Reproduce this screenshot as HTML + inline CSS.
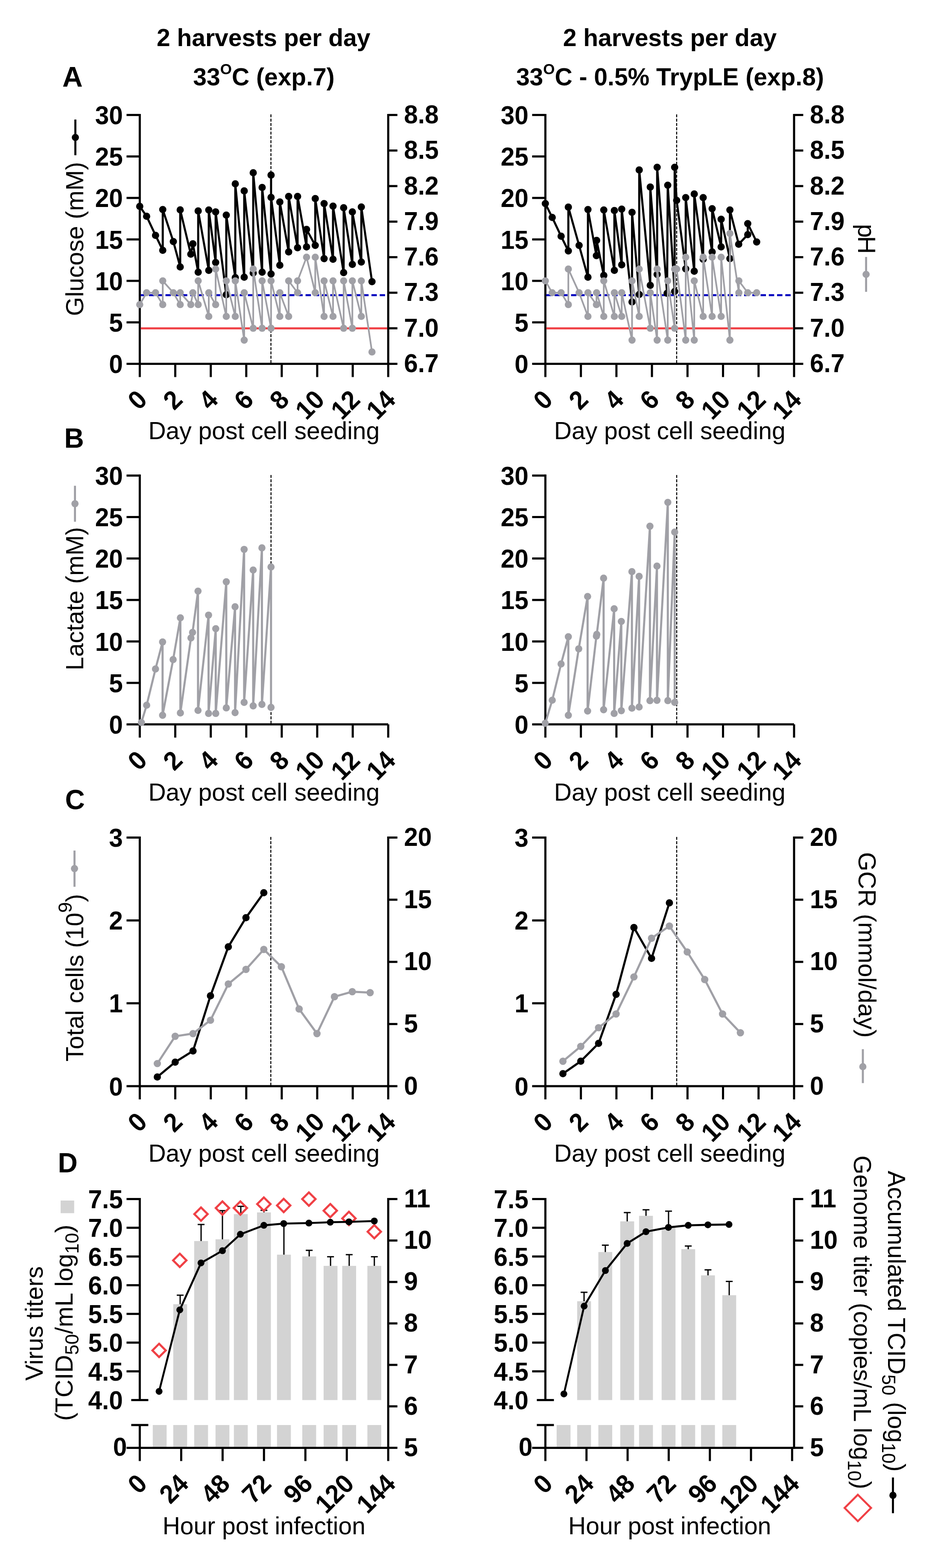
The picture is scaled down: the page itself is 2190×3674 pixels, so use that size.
<!DOCTYPE html>
<html><head><meta charset="utf-8"><title>Figure</title>
<style>html,body{margin:0;padding:0;background:#fff;}svg{display:block;}</style>
</head><body>
<svg width="2190" height="3674" viewBox="0 0 2190 3674" font-family="'Liberation Sans', Arial, sans-serif">
<rect width="2190" height="3674" fill="#fff"/>
<line x1="634.6" y1="268" x2="634.6" y2="850" stroke="#000" stroke-width="2.4" stroke-dasharray="6.8 3.3"/>
<line x1="1584.9" y1="268" x2="1584.9" y2="850" stroke="#000" stroke-width="2.4" stroke-dasharray="6.8 3.3"/>
<line x1="327.4" y1="266.9" x2="327.4" y2="855" stroke="#000" stroke-width="5.0" />
<line x1="296.4" y1="269.4" x2="327.4" y2="269.4" stroke="#000" stroke-width="5.0" />
<text transform="translate(287.9,290.9) scale(1,1.05)" font-size="58.5" font-weight="bold" text-anchor="end">30</text>
<line x1="296.4" y1="366.6" x2="327.4" y2="366.6" stroke="#000" stroke-width="5.0" />
<text transform="translate(287.9,388.1) scale(1,1.05)" font-size="58.5" font-weight="bold" text-anchor="end">25</text>
<line x1="296.4" y1="463.8" x2="327.4" y2="463.8" stroke="#000" stroke-width="5.0" />
<text transform="translate(287.9,485.3) scale(1,1.05)" font-size="58.5" font-weight="bold" text-anchor="end">20</text>
<line x1="296.4" y1="561" x2="327.4" y2="561" stroke="#000" stroke-width="5.0" />
<text transform="translate(287.9,582.5) scale(1,1.05)" font-size="58.5" font-weight="bold" text-anchor="end">15</text>
<line x1="296.4" y1="658.1" x2="327.4" y2="658.1" stroke="#000" stroke-width="5.0" />
<text transform="translate(287.9,679.6) scale(1,1.05)" font-size="58.5" font-weight="bold" text-anchor="end">10</text>
<line x1="296.4" y1="755.3" x2="327.4" y2="755.3" stroke="#000" stroke-width="5.0" />
<text transform="translate(287.9,776.8) scale(1,1.05)" font-size="58.5" font-weight="bold" text-anchor="end">5</text>
<line x1="296.4" y1="852.5" x2="327.4" y2="852.5" stroke="#000" stroke-width="5.0" />
<text transform="translate(287.9,874) scale(1,1.05)" font-size="58.5" font-weight="bold" text-anchor="end">0</text>
<line x1="909.3" y1="266.9" x2="909.3" y2="855" stroke="#000" stroke-width="5.0" />
<line x1="909.3" y1="269.4" x2="930.8" y2="269.4" stroke="#000" stroke-width="5.0" />
<text transform="translate(946.3,288.9) scale(1,1.05)" font-size="58.5" font-weight="bold" text-anchor="start">8.8</text>
<line x1="909.3" y1="352.7" x2="930.8" y2="352.7" stroke="#000" stroke-width="5.0" />
<text transform="translate(946.3,372.2) scale(1,1.05)" font-size="58.5" font-weight="bold" text-anchor="start">8.5</text>
<line x1="909.3" y1="436" x2="930.8" y2="436" stroke="#000" stroke-width="5.0" />
<text transform="translate(946.3,455.5) scale(1,1.05)" font-size="58.5" font-weight="bold" text-anchor="start">8.2</text>
<line x1="909.3" y1="519.3" x2="930.8" y2="519.3" stroke="#000" stroke-width="5.0" />
<text transform="translate(946.3,538.8) scale(1,1.05)" font-size="58.5" font-weight="bold" text-anchor="start">7.9</text>
<line x1="909.3" y1="602.6" x2="930.8" y2="602.6" stroke="#000" stroke-width="5.0" />
<text transform="translate(946.3,622.1) scale(1,1.05)" font-size="58.5" font-weight="bold" text-anchor="start">7.6</text>
<line x1="909.3" y1="685.9" x2="930.8" y2="685.9" stroke="#000" stroke-width="5.0" />
<text transform="translate(946.3,705.4) scale(1,1.05)" font-size="58.5" font-weight="bold" text-anchor="start">7.3</text>
<line x1="909.3" y1="769.2" x2="930.8" y2="769.2" stroke="#000" stroke-width="5.0" />
<text transform="translate(946.3,788.7) scale(1,1.05)" font-size="58.5" font-weight="bold" text-anchor="start">7.0</text>
<line x1="909.3" y1="852.5" x2="930.8" y2="852.5" stroke="#000" stroke-width="5.0" />
<text transform="translate(946.3,872) scale(1,1.05)" font-size="58.5" font-weight="bold" text-anchor="start">6.7</text>
<line x1="327.4" y1="852.5" x2="909.3" y2="852.5" stroke="#000" stroke-width="5.0" />
<line x1="327.4" y1="852.5" x2="327.4" y2="883.5" stroke="#000" stroke-width="5.0" />
<text transform="translate(333.1,925.5) rotate(-45) scale(1,1.05)" font-size="58.5" font-weight="bold" text-anchor="end" dy="20">0</text>
<line x1="410.5" y1="852.5" x2="410.5" y2="883.5" stroke="#000" stroke-width="5.0" />
<text transform="translate(416.2,925.5) rotate(-45) scale(1,1.05)" font-size="58.5" font-weight="bold" text-anchor="end" dy="20">2</text>
<line x1="493.7" y1="852.5" x2="493.7" y2="883.5" stroke="#000" stroke-width="5.0" />
<text transform="translate(499.4,925.5) rotate(-45) scale(1,1.05)" font-size="58.5" font-weight="bold" text-anchor="end" dy="20">4</text>
<line x1="576.8" y1="852.5" x2="576.8" y2="883.5" stroke="#000" stroke-width="5.0" />
<text transform="translate(582.5,925.5) rotate(-45) scale(1,1.05)" font-size="58.5" font-weight="bold" text-anchor="end" dy="20">6</text>
<line x1="659.9" y1="852.5" x2="659.9" y2="883.5" stroke="#000" stroke-width="5.0" />
<text transform="translate(665.6,925.5) rotate(-45) scale(1,1.05)" font-size="58.5" font-weight="bold" text-anchor="end" dy="20">8</text>
<line x1="743" y1="852.5" x2="743" y2="883.5" stroke="#000" stroke-width="5.0" />
<text transform="translate(748.7,925.5) rotate(-45) scale(1,1.05)" font-size="58.5" font-weight="bold" text-anchor="end" dy="20">10</text>
<line x1="826.2" y1="852.5" x2="826.2" y2="883.5" stroke="#000" stroke-width="5.0" />
<text transform="translate(831.9,925.5) rotate(-45) scale(1,1.05)" font-size="58.5" font-weight="bold" text-anchor="end" dy="20">12</text>
<line x1="909.3" y1="852.5" x2="909.3" y2="883.5" stroke="#000" stroke-width="5.0" />
<text transform="translate(915,925.5) rotate(-45) scale(1,1.05)" font-size="58.5" font-weight="bold" text-anchor="end" dy="20">14</text>
<line x1="1277.4" y1="266.9" x2="1277.4" y2="855" stroke="#000" stroke-width="5.0" />
<line x1="1246.4" y1="269.4" x2="1277.4" y2="269.4" stroke="#000" stroke-width="5.0" />
<text transform="translate(1237.9,290.9) scale(1,1.05)" font-size="58.5" font-weight="bold" text-anchor="end">30</text>
<line x1="1246.4" y1="366.6" x2="1277.4" y2="366.6" stroke="#000" stroke-width="5.0" />
<text transform="translate(1237.9,388.1) scale(1,1.05)" font-size="58.5" font-weight="bold" text-anchor="end">25</text>
<line x1="1246.4" y1="463.8" x2="1277.4" y2="463.8" stroke="#000" stroke-width="5.0" />
<text transform="translate(1237.9,485.3) scale(1,1.05)" font-size="58.5" font-weight="bold" text-anchor="end">20</text>
<line x1="1246.4" y1="561" x2="1277.4" y2="561" stroke="#000" stroke-width="5.0" />
<text transform="translate(1237.9,582.5) scale(1,1.05)" font-size="58.5" font-weight="bold" text-anchor="end">15</text>
<line x1="1246.4" y1="658.1" x2="1277.4" y2="658.1" stroke="#000" stroke-width="5.0" />
<text transform="translate(1237.9,679.6) scale(1,1.05)" font-size="58.5" font-weight="bold" text-anchor="end">10</text>
<line x1="1246.4" y1="755.3" x2="1277.4" y2="755.3" stroke="#000" stroke-width="5.0" />
<text transform="translate(1237.9,776.8) scale(1,1.05)" font-size="58.5" font-weight="bold" text-anchor="end">5</text>
<line x1="1246.4" y1="852.5" x2="1277.4" y2="852.5" stroke="#000" stroke-width="5.0" />
<text transform="translate(1237.9,874) scale(1,1.05)" font-size="58.5" font-weight="bold" text-anchor="end">0</text>
<line x1="1859.9" y1="266.9" x2="1859.9" y2="855" stroke="#000" stroke-width="5.0" />
<line x1="1859.9" y1="269.4" x2="1881.4" y2="269.4" stroke="#000" stroke-width="5.0" />
<text transform="translate(1896.9,288.9) scale(1,1.05)" font-size="58.5" font-weight="bold" text-anchor="start">8.8</text>
<line x1="1859.9" y1="352.7" x2="1881.4" y2="352.7" stroke="#000" stroke-width="5.0" />
<text transform="translate(1896.9,372.2) scale(1,1.05)" font-size="58.5" font-weight="bold" text-anchor="start">8.5</text>
<line x1="1859.9" y1="436" x2="1881.4" y2="436" stroke="#000" stroke-width="5.0" />
<text transform="translate(1896.9,455.5) scale(1,1.05)" font-size="58.5" font-weight="bold" text-anchor="start">8.2</text>
<line x1="1859.9" y1="519.3" x2="1881.4" y2="519.3" stroke="#000" stroke-width="5.0" />
<text transform="translate(1896.9,538.8) scale(1,1.05)" font-size="58.5" font-weight="bold" text-anchor="start">7.9</text>
<line x1="1859.9" y1="602.6" x2="1881.4" y2="602.6" stroke="#000" stroke-width="5.0" />
<text transform="translate(1896.9,622.1) scale(1,1.05)" font-size="58.5" font-weight="bold" text-anchor="start">7.6</text>
<line x1="1859.9" y1="685.9" x2="1881.4" y2="685.9" stroke="#000" stroke-width="5.0" />
<text transform="translate(1896.9,705.4) scale(1,1.05)" font-size="58.5" font-weight="bold" text-anchor="start">7.3</text>
<line x1="1859.9" y1="769.2" x2="1881.4" y2="769.2" stroke="#000" stroke-width="5.0" />
<text transform="translate(1896.9,788.7) scale(1,1.05)" font-size="58.5" font-weight="bold" text-anchor="start">7.0</text>
<line x1="1859.9" y1="852.5" x2="1881.4" y2="852.5" stroke="#000" stroke-width="5.0" />
<text transform="translate(1896.9,872) scale(1,1.05)" font-size="58.5" font-weight="bold" text-anchor="start">6.7</text>
<line x1="1277.4" y1="852.5" x2="1859.9" y2="852.5" stroke="#000" stroke-width="5.0" />
<line x1="1277.4" y1="852.5" x2="1277.4" y2="883.5" stroke="#000" stroke-width="5.0" />
<text transform="translate(1283.1,925.5) rotate(-45) scale(1,1.05)" font-size="58.5" font-weight="bold" text-anchor="end" dy="20">0</text>
<line x1="1360.6" y1="852.5" x2="1360.6" y2="883.5" stroke="#000" stroke-width="5.0" />
<text transform="translate(1366.3,925.5) rotate(-45) scale(1,1.05)" font-size="58.5" font-weight="bold" text-anchor="end" dy="20">2</text>
<line x1="1443.8" y1="852.5" x2="1443.8" y2="883.5" stroke="#000" stroke-width="5.0" />
<text transform="translate(1449.5,925.5) rotate(-45) scale(1,1.05)" font-size="58.5" font-weight="bold" text-anchor="end" dy="20">4</text>
<line x1="1527" y1="852.5" x2="1527" y2="883.5" stroke="#000" stroke-width="5.0" />
<text transform="translate(1532.7,925.5) rotate(-45) scale(1,1.05)" font-size="58.5" font-weight="bold" text-anchor="end" dy="20">6</text>
<line x1="1610.3" y1="852.5" x2="1610.3" y2="883.5" stroke="#000" stroke-width="5.0" />
<text transform="translate(1616,925.5) rotate(-45) scale(1,1.05)" font-size="58.5" font-weight="bold" text-anchor="end" dy="20">8</text>
<line x1="1693.5" y1="852.5" x2="1693.5" y2="883.5" stroke="#000" stroke-width="5.0" />
<text transform="translate(1699.2,925.5) rotate(-45) scale(1,1.05)" font-size="58.5" font-weight="bold" text-anchor="end" dy="20">10</text>
<line x1="1776.7" y1="852.5" x2="1776.7" y2="883.5" stroke="#000" stroke-width="5.0" />
<text transform="translate(1782.4,925.5) rotate(-45) scale(1,1.05)" font-size="58.5" font-weight="bold" text-anchor="end" dy="20">12</text>
<line x1="1859.9" y1="852.5" x2="1859.9" y2="883.5" stroke="#000" stroke-width="5.0" />
<text transform="translate(1865.6,925.5) rotate(-45) scale(1,1.05)" font-size="58.5" font-weight="bold" text-anchor="end" dy="20">14</text>
<line x1="634.8" y1="1113" x2="634.8" y2="1695" stroke="#000" stroke-width="2.4" stroke-dasharray="6.8 3.3"/>
<line x1="1585" y1="1113" x2="1585" y2="1695" stroke="#000" stroke-width="2.4" stroke-dasharray="6.8 3.3"/>
<line x1="327.4" y1="1111.8" x2="327.4" y2="1699.8" stroke="#000" stroke-width="5.0" />
<line x1="296.4" y1="1114.3" x2="327.4" y2="1114.3" stroke="#000" stroke-width="5.0" />
<text transform="translate(287.9,1135.8) scale(1,1.05)" font-size="58.5" font-weight="bold" text-anchor="end">30</text>
<line x1="296.4" y1="1211.5" x2="327.4" y2="1211.5" stroke="#000" stroke-width="5.0" />
<text transform="translate(287.9,1233) scale(1,1.05)" font-size="58.5" font-weight="bold" text-anchor="end">25</text>
<line x1="296.4" y1="1308.6" x2="327.4" y2="1308.6" stroke="#000" stroke-width="5.0" />
<text transform="translate(287.9,1330.1) scale(1,1.05)" font-size="58.5" font-weight="bold" text-anchor="end">20</text>
<line x1="296.4" y1="1405.8" x2="327.4" y2="1405.8" stroke="#000" stroke-width="5.0" />
<text transform="translate(287.9,1427.3) scale(1,1.05)" font-size="58.5" font-weight="bold" text-anchor="end">15</text>
<line x1="296.4" y1="1503" x2="327.4" y2="1503" stroke="#000" stroke-width="5.0" />
<text transform="translate(287.9,1524.5) scale(1,1.05)" font-size="58.5" font-weight="bold" text-anchor="end">10</text>
<line x1="296.4" y1="1600.1" x2="327.4" y2="1600.1" stroke="#000" stroke-width="5.0" />
<text transform="translate(287.9,1621.6) scale(1,1.05)" font-size="58.5" font-weight="bold" text-anchor="end">5</text>
<line x1="296.4" y1="1697.3" x2="327.4" y2="1697.3" stroke="#000" stroke-width="5.0" />
<text transform="translate(287.9,1718.8) scale(1,1.05)" font-size="58.5" font-weight="bold" text-anchor="end">0</text>
<line x1="327.4" y1="1697.3" x2="909.3" y2="1697.3" stroke="#000" stroke-width="5.0" />
<line x1="327.4" y1="1697.3" x2="327.4" y2="1728.3" stroke="#000" stroke-width="5.0" />
<text transform="translate(333.1,1770.3) rotate(-45) scale(1,1.05)" font-size="58.5" font-weight="bold" text-anchor="end" dy="20">0</text>
<line x1="410.5" y1="1697.3" x2="410.5" y2="1728.3" stroke="#000" stroke-width="5.0" />
<text transform="translate(416.2,1770.3) rotate(-45) scale(1,1.05)" font-size="58.5" font-weight="bold" text-anchor="end" dy="20">2</text>
<line x1="493.7" y1="1697.3" x2="493.7" y2="1728.3" stroke="#000" stroke-width="5.0" />
<text transform="translate(499.4,1770.3) rotate(-45) scale(1,1.05)" font-size="58.5" font-weight="bold" text-anchor="end" dy="20">4</text>
<line x1="576.8" y1="1697.3" x2="576.8" y2="1728.3" stroke="#000" stroke-width="5.0" />
<text transform="translate(582.5,1770.3) rotate(-45) scale(1,1.05)" font-size="58.5" font-weight="bold" text-anchor="end" dy="20">6</text>
<line x1="659.9" y1="1697.3" x2="659.9" y2="1728.3" stroke="#000" stroke-width="5.0" />
<text transform="translate(665.6,1770.3) rotate(-45) scale(1,1.05)" font-size="58.5" font-weight="bold" text-anchor="end" dy="20">8</text>
<line x1="743" y1="1697.3" x2="743" y2="1728.3" stroke="#000" stroke-width="5.0" />
<text transform="translate(748.7,1770.3) rotate(-45) scale(1,1.05)" font-size="58.5" font-weight="bold" text-anchor="end" dy="20">10</text>
<line x1="826.2" y1="1697.3" x2="826.2" y2="1728.3" stroke="#000" stroke-width="5.0" />
<text transform="translate(831.9,1770.3) rotate(-45) scale(1,1.05)" font-size="58.5" font-weight="bold" text-anchor="end" dy="20">12</text>
<line x1="909.3" y1="1697.3" x2="909.3" y2="1728.3" stroke="#000" stroke-width="5.0" />
<text transform="translate(915,1770.3) rotate(-45) scale(1,1.05)" font-size="58.5" font-weight="bold" text-anchor="end" dy="20">14</text>
<line x1="1277.4" y1="1111.8" x2="1277.4" y2="1699.8" stroke="#000" stroke-width="5.0" />
<line x1="1246.4" y1="1114.3" x2="1277.4" y2="1114.3" stroke="#000" stroke-width="5.0" />
<text transform="translate(1237.9,1135.8) scale(1,1.05)" font-size="58.5" font-weight="bold" text-anchor="end">30</text>
<line x1="1246.4" y1="1211.5" x2="1277.4" y2="1211.5" stroke="#000" stroke-width="5.0" />
<text transform="translate(1237.9,1233) scale(1,1.05)" font-size="58.5" font-weight="bold" text-anchor="end">25</text>
<line x1="1246.4" y1="1308.6" x2="1277.4" y2="1308.6" stroke="#000" stroke-width="5.0" />
<text transform="translate(1237.9,1330.1) scale(1,1.05)" font-size="58.5" font-weight="bold" text-anchor="end">20</text>
<line x1="1246.4" y1="1405.8" x2="1277.4" y2="1405.8" stroke="#000" stroke-width="5.0" />
<text transform="translate(1237.9,1427.3) scale(1,1.05)" font-size="58.5" font-weight="bold" text-anchor="end">15</text>
<line x1="1246.4" y1="1503" x2="1277.4" y2="1503" stroke="#000" stroke-width="5.0" />
<text transform="translate(1237.9,1524.5) scale(1,1.05)" font-size="58.5" font-weight="bold" text-anchor="end">10</text>
<line x1="1246.4" y1="1600.1" x2="1277.4" y2="1600.1" stroke="#000" stroke-width="5.0" />
<text transform="translate(1237.9,1621.6) scale(1,1.05)" font-size="58.5" font-weight="bold" text-anchor="end">5</text>
<line x1="1246.4" y1="1697.3" x2="1277.4" y2="1697.3" stroke="#000" stroke-width="5.0" />
<text transform="translate(1237.9,1718.8) scale(1,1.05)" font-size="58.5" font-weight="bold" text-anchor="end">0</text>
<line x1="1277.4" y1="1697.3" x2="1859.9" y2="1697.3" stroke="#000" stroke-width="5.0" />
<line x1="1277.4" y1="1697.3" x2="1277.4" y2="1728.3" stroke="#000" stroke-width="5.0" />
<text transform="translate(1283.1,1770.3) rotate(-45) scale(1,1.05)" font-size="58.5" font-weight="bold" text-anchor="end" dy="20">0</text>
<line x1="1360.6" y1="1697.3" x2="1360.6" y2="1728.3" stroke="#000" stroke-width="5.0" />
<text transform="translate(1366.3,1770.3) rotate(-45) scale(1,1.05)" font-size="58.5" font-weight="bold" text-anchor="end" dy="20">2</text>
<line x1="1443.8" y1="1697.3" x2="1443.8" y2="1728.3" stroke="#000" stroke-width="5.0" />
<text transform="translate(1449.5,1770.3) rotate(-45) scale(1,1.05)" font-size="58.5" font-weight="bold" text-anchor="end" dy="20">4</text>
<line x1="1527" y1="1697.3" x2="1527" y2="1728.3" stroke="#000" stroke-width="5.0" />
<text transform="translate(1532.7,1770.3) rotate(-45) scale(1,1.05)" font-size="58.5" font-weight="bold" text-anchor="end" dy="20">6</text>
<line x1="1610.3" y1="1697.3" x2="1610.3" y2="1728.3" stroke="#000" stroke-width="5.0" />
<text transform="translate(1616,1770.3) rotate(-45) scale(1,1.05)" font-size="58.5" font-weight="bold" text-anchor="end" dy="20">8</text>
<line x1="1693.5" y1="1697.3" x2="1693.5" y2="1728.3" stroke="#000" stroke-width="5.0" />
<text transform="translate(1699.2,1770.3) rotate(-45) scale(1,1.05)" font-size="58.5" font-weight="bold" text-anchor="end" dy="20">10</text>
<line x1="1776.7" y1="1697.3" x2="1776.7" y2="1728.3" stroke="#000" stroke-width="5.0" />
<text transform="translate(1782.4,1770.3) rotate(-45) scale(1,1.05)" font-size="58.5" font-weight="bold" text-anchor="end" dy="20">12</text>
<line x1="1859.9" y1="1697.3" x2="1859.9" y2="1728.3" stroke="#000" stroke-width="5.0" />
<text transform="translate(1865.6,1770.3) rotate(-45) scale(1,1.05)" font-size="58.5" font-weight="bold" text-anchor="end" dy="20">14</text>
<line x1="634.3" y1="1961" x2="634.3" y2="2543" stroke="#000" stroke-width="2.4" stroke-dasharray="6.8 3.3"/>
<line x1="1585" y1="1961" x2="1585" y2="2543" stroke="#000" stroke-width="2.4" stroke-dasharray="6.8 3.3"/>
<line x1="327.4" y1="1960" x2="327.4" y2="2547.5" stroke="#000" stroke-width="5.0" />
<line x1="296.4" y1="1962.5" x2="327.4" y2="1962.5" stroke="#000" stroke-width="5.0" />
<text transform="translate(287.9,1984) scale(1,1.05)" font-size="58.5" font-weight="bold" text-anchor="end">3</text>
<line x1="296.4" y1="2156.7" x2="327.4" y2="2156.7" stroke="#000" stroke-width="5.0" />
<text transform="translate(287.9,2178.2) scale(1,1.05)" font-size="58.5" font-weight="bold" text-anchor="end">2</text>
<line x1="296.4" y1="2350.8" x2="327.4" y2="2350.8" stroke="#000" stroke-width="5.0" />
<text transform="translate(287.9,2372.3) scale(1,1.05)" font-size="58.5" font-weight="bold" text-anchor="end">1</text>
<line x1="296.4" y1="2545" x2="327.4" y2="2545" stroke="#000" stroke-width="5.0" />
<text transform="translate(287.9,2566.5) scale(1,1.05)" font-size="58.5" font-weight="bold" text-anchor="end">0</text>
<line x1="909.3" y1="1960" x2="909.3" y2="2547.5" stroke="#000" stroke-width="5.0" />
<line x1="909.3" y1="1962.5" x2="930.8" y2="1962.5" stroke="#000" stroke-width="5.0" />
<text transform="translate(946.3,1982) scale(1,1.05)" font-size="58.5" font-weight="bold" text-anchor="start">20</text>
<line x1="909.3" y1="2108.1" x2="930.8" y2="2108.1" stroke="#000" stroke-width="5.0" />
<text transform="translate(946.3,2127.6) scale(1,1.05)" font-size="58.5" font-weight="bold" text-anchor="start">15</text>
<line x1="909.3" y1="2253.8" x2="930.8" y2="2253.8" stroke="#000" stroke-width="5.0" />
<text transform="translate(946.3,2273.2) scale(1,1.05)" font-size="58.5" font-weight="bold" text-anchor="start">10</text>
<line x1="909.3" y1="2399.4" x2="930.8" y2="2399.4" stroke="#000" stroke-width="5.0" />
<text transform="translate(946.3,2418.9) scale(1,1.05)" font-size="58.5" font-weight="bold" text-anchor="start">5</text>
<line x1="909.3" y1="2545" x2="930.8" y2="2545" stroke="#000" stroke-width="5.0" />
<text transform="translate(946.3,2564.5) scale(1,1.05)" font-size="58.5" font-weight="bold" text-anchor="start">0</text>
<line x1="327.4" y1="2545" x2="909.3" y2="2545" stroke="#000" stroke-width="5.0" />
<line x1="327.4" y1="2545" x2="327.4" y2="2576" stroke="#000" stroke-width="5.0" />
<text transform="translate(333.1,2618) rotate(-45) scale(1,1.05)" font-size="58.5" font-weight="bold" text-anchor="end" dy="20">0</text>
<line x1="410.5" y1="2545" x2="410.5" y2="2576" stroke="#000" stroke-width="5.0" />
<text transform="translate(416.2,2618) rotate(-45) scale(1,1.05)" font-size="58.5" font-weight="bold" text-anchor="end" dy="20">2</text>
<line x1="493.7" y1="2545" x2="493.7" y2="2576" stroke="#000" stroke-width="5.0" />
<text transform="translate(499.4,2618) rotate(-45) scale(1,1.05)" font-size="58.5" font-weight="bold" text-anchor="end" dy="20">4</text>
<line x1="576.8" y1="2545" x2="576.8" y2="2576" stroke="#000" stroke-width="5.0" />
<text transform="translate(582.5,2618) rotate(-45) scale(1,1.05)" font-size="58.5" font-weight="bold" text-anchor="end" dy="20">6</text>
<line x1="659.9" y1="2545" x2="659.9" y2="2576" stroke="#000" stroke-width="5.0" />
<text transform="translate(665.6,2618) rotate(-45) scale(1,1.05)" font-size="58.5" font-weight="bold" text-anchor="end" dy="20">8</text>
<line x1="743" y1="2545" x2="743" y2="2576" stroke="#000" stroke-width="5.0" />
<text transform="translate(748.7,2618) rotate(-45) scale(1,1.05)" font-size="58.5" font-weight="bold" text-anchor="end" dy="20">10</text>
<line x1="826.2" y1="2545" x2="826.2" y2="2576" stroke="#000" stroke-width="5.0" />
<text transform="translate(831.9,2618) rotate(-45) scale(1,1.05)" font-size="58.5" font-weight="bold" text-anchor="end" dy="20">12</text>
<line x1="909.3" y1="2545" x2="909.3" y2="2576" stroke="#000" stroke-width="5.0" />
<text transform="translate(915,2618) rotate(-45) scale(1,1.05)" font-size="58.5" font-weight="bold" text-anchor="end" dy="20">14</text>
<line x1="1277.4" y1="1960" x2="1277.4" y2="2547.5" stroke="#000" stroke-width="5.0" />
<line x1="1246.4" y1="1962.5" x2="1277.4" y2="1962.5" stroke="#000" stroke-width="5.0" />
<text transform="translate(1237.9,1984) scale(1,1.05)" font-size="58.5" font-weight="bold" text-anchor="end">3</text>
<line x1="1246.4" y1="2156.7" x2="1277.4" y2="2156.7" stroke="#000" stroke-width="5.0" />
<text transform="translate(1237.9,2178.2) scale(1,1.05)" font-size="58.5" font-weight="bold" text-anchor="end">2</text>
<line x1="1246.4" y1="2350.8" x2="1277.4" y2="2350.8" stroke="#000" stroke-width="5.0" />
<text transform="translate(1237.9,2372.3) scale(1,1.05)" font-size="58.5" font-weight="bold" text-anchor="end">1</text>
<line x1="1246.4" y1="2545" x2="1277.4" y2="2545" stroke="#000" stroke-width="5.0" />
<text transform="translate(1237.9,2566.5) scale(1,1.05)" font-size="58.5" font-weight="bold" text-anchor="end">0</text>
<line x1="1859.9" y1="1960" x2="1859.9" y2="2547.5" stroke="#000" stroke-width="5.0" />
<line x1="1859.9" y1="1962.5" x2="1881.4" y2="1962.5" stroke="#000" stroke-width="5.0" />
<text transform="translate(1896.9,1982) scale(1,1.05)" font-size="58.5" font-weight="bold" text-anchor="start">20</text>
<line x1="1859.9" y1="2108.1" x2="1881.4" y2="2108.1" stroke="#000" stroke-width="5.0" />
<text transform="translate(1896.9,2127.6) scale(1,1.05)" font-size="58.5" font-weight="bold" text-anchor="start">15</text>
<line x1="1859.9" y1="2253.8" x2="1881.4" y2="2253.8" stroke="#000" stroke-width="5.0" />
<text transform="translate(1896.9,2273.2) scale(1,1.05)" font-size="58.5" font-weight="bold" text-anchor="start">10</text>
<line x1="1859.9" y1="2399.4" x2="1881.4" y2="2399.4" stroke="#000" stroke-width="5.0" />
<text transform="translate(1896.9,2418.9) scale(1,1.05)" font-size="58.5" font-weight="bold" text-anchor="start">5</text>
<line x1="1859.9" y1="2545" x2="1881.4" y2="2545" stroke="#000" stroke-width="5.0" />
<text transform="translate(1896.9,2564.5) scale(1,1.05)" font-size="58.5" font-weight="bold" text-anchor="start">0</text>
<line x1="1277.4" y1="2545" x2="1859.9" y2="2545" stroke="#000" stroke-width="5.0" />
<line x1="1277.4" y1="2545" x2="1277.4" y2="2576" stroke="#000" stroke-width="5.0" />
<text transform="translate(1283.1,2618) rotate(-45) scale(1,1.05)" font-size="58.5" font-weight="bold" text-anchor="end" dy="20">0</text>
<line x1="1360.6" y1="2545" x2="1360.6" y2="2576" stroke="#000" stroke-width="5.0" />
<text transform="translate(1366.3,2618) rotate(-45) scale(1,1.05)" font-size="58.5" font-weight="bold" text-anchor="end" dy="20">2</text>
<line x1="1443.8" y1="2545" x2="1443.8" y2="2576" stroke="#000" stroke-width="5.0" />
<text transform="translate(1449.5,2618) rotate(-45) scale(1,1.05)" font-size="58.5" font-weight="bold" text-anchor="end" dy="20">4</text>
<line x1="1527" y1="2545" x2="1527" y2="2576" stroke="#000" stroke-width="5.0" />
<text transform="translate(1532.7,2618) rotate(-45) scale(1,1.05)" font-size="58.5" font-weight="bold" text-anchor="end" dy="20">6</text>
<line x1="1610.3" y1="2545" x2="1610.3" y2="2576" stroke="#000" stroke-width="5.0" />
<text transform="translate(1616,2618) rotate(-45) scale(1,1.05)" font-size="58.5" font-weight="bold" text-anchor="end" dy="20">8</text>
<line x1="1693.5" y1="2545" x2="1693.5" y2="2576" stroke="#000" stroke-width="5.0" />
<text transform="translate(1699.2,2618) rotate(-45) scale(1,1.05)" font-size="58.5" font-weight="bold" text-anchor="end" dy="20">10</text>
<line x1="1776.7" y1="2545" x2="1776.7" y2="2576" stroke="#000" stroke-width="5.0" />
<text transform="translate(1782.4,2618) rotate(-45) scale(1,1.05)" font-size="58.5" font-weight="bold" text-anchor="end" dy="20">12</text>
<line x1="1859.9" y1="2545" x2="1859.9" y2="2576" stroke="#000" stroke-width="5.0" />
<text transform="translate(1865.6,2618) rotate(-45) scale(1,1.05)" font-size="58.5" font-weight="bold" text-anchor="end" dy="20">14</text>
<line x1="327.4" y1="2807" x2="327.4" y2="3280.5" stroke="#000" stroke-width="5.0" />
<line x1="296.4" y1="2809.5" x2="327.4" y2="2809.5" stroke="#000" stroke-width="5.0" />
<text transform="translate(287.9,2831) scale(1,1.05)" font-size="58.5" font-weight="bold" text-anchor="end">7.5</text>
<line x1="296.4" y1="2876.8" x2="327.4" y2="2876.8" stroke="#000" stroke-width="5.0" />
<text transform="translate(287.9,2898.3) scale(1,1.05)" font-size="58.5" font-weight="bold" text-anchor="end">7.0</text>
<line x1="296.4" y1="2944.1" x2="327.4" y2="2944.1" stroke="#000" stroke-width="5.0" />
<text transform="translate(287.9,2965.6) scale(1,1.05)" font-size="58.5" font-weight="bold" text-anchor="end">6.5</text>
<line x1="296.4" y1="3011.4" x2="327.4" y2="3011.4" stroke="#000" stroke-width="5.0" />
<text transform="translate(287.9,3032.9) scale(1,1.05)" font-size="58.5" font-weight="bold" text-anchor="end">6.0</text>
<line x1="296.4" y1="3078.6" x2="327.4" y2="3078.6" stroke="#000" stroke-width="5.0" />
<text transform="translate(287.9,3100.1) scale(1,1.05)" font-size="58.5" font-weight="bold" text-anchor="end">5.5</text>
<line x1="296.4" y1="3145.9" x2="327.4" y2="3145.9" stroke="#000" stroke-width="5.0" />
<text transform="translate(287.9,3167.4) scale(1,1.05)" font-size="58.5" font-weight="bold" text-anchor="end">5.0</text>
<line x1="296.4" y1="3213.2" x2="327.4" y2="3213.2" stroke="#000" stroke-width="5.0" />
<text transform="translate(287.9,3234.7) scale(1,1.05)" font-size="58.5" font-weight="bold" text-anchor="end">4.5</text>
<line x1="307.4" y1="3280.5" x2="347.4" y2="3280.5" stroke="#000" stroke-width="5.0" />
<text transform="translate(287.9,3302) scale(1,1.05)" font-size="58.5" font-weight="bold" text-anchor="end">4.0</text>
<line x1="307.4" y1="3339" x2="347.4" y2="3339" stroke="#000" stroke-width="5.0" />
<line x1="327.4" y1="3339" x2="327.4" y2="3392.4" stroke="#000" stroke-width="5.0" />
<text transform="translate(297.4,3411.4) scale(1,1.05)" font-size="58.5" font-weight="bold" text-anchor="end">0</text>
<line x1="909.3" y1="2807" x2="909.3" y2="3394.9" stroke="#000" stroke-width="5.0" />
<line x1="909.3" y1="2809.5" x2="930.8" y2="2809.5" stroke="#000" stroke-width="5.0" />
<text transform="translate(946.3,2829) scale(1,1.05)" font-size="58.5" font-weight="bold" text-anchor="start">11</text>
<line x1="909.3" y1="2906.7" x2="930.8" y2="2906.7" stroke="#000" stroke-width="5.0" />
<text transform="translate(946.3,2926.2) scale(1,1.05)" font-size="58.5" font-weight="bold" text-anchor="start">10</text>
<line x1="909.3" y1="3003.8" x2="930.8" y2="3003.8" stroke="#000" stroke-width="5.0" />
<text transform="translate(946.3,3023.3) scale(1,1.05)" font-size="58.5" font-weight="bold" text-anchor="start">9</text>
<line x1="909.3" y1="3100.9" x2="930.8" y2="3100.9" stroke="#000" stroke-width="5.0" />
<text transform="translate(946.3,3120.4) scale(1,1.05)" font-size="58.5" font-weight="bold" text-anchor="start">8</text>
<line x1="909.3" y1="3198.1" x2="930.8" y2="3198.1" stroke="#000" stroke-width="5.0" />
<text transform="translate(946.3,3217.6) scale(1,1.05)" font-size="58.5" font-weight="bold" text-anchor="start">7</text>
<line x1="909.3" y1="3295.2" x2="930.8" y2="3295.2" stroke="#000" stroke-width="5.0" />
<text transform="translate(946.3,3314.8) scale(1,1.05)" font-size="58.5" font-weight="bold" text-anchor="start">6</text>
<line x1="909.3" y1="3392.4" x2="930.8" y2="3392.4" stroke="#000" stroke-width="5.0" />
<text transform="translate(946.3,3411.9) scale(1,1.05)" font-size="58.5" font-weight="bold" text-anchor="start">5</text>
<line x1="296.4" y1="3392.4" x2="909.3" y2="3392.4" stroke="#000" stroke-width="5.0" />
<line x1="327.4" y1="3392.4" x2="327.4" y2="3423.4" stroke="#000" stroke-width="5.0" />
<text transform="translate(333.1,3465.4) rotate(-45) scale(1,1.05)" font-size="58.5" font-weight="bold" text-anchor="end" dy="20">0</text>
<line x1="424.4" y1="3392.4" x2="424.4" y2="3423.4" stroke="#000" stroke-width="5.0" />
<text transform="translate(430.1,3465.4) rotate(-45) scale(1,1.05)" font-size="58.5" font-weight="bold" text-anchor="end" dy="20">24</text>
<line x1="521.4" y1="3392.4" x2="521.4" y2="3423.4" stroke="#000" stroke-width="5.0" />
<text transform="translate(527.1,3465.4) rotate(-45) scale(1,1.05)" font-size="58.5" font-weight="bold" text-anchor="end" dy="20">48</text>
<line x1="618.3" y1="3392.4" x2="618.3" y2="3423.4" stroke="#000" stroke-width="5.0" />
<text transform="translate(624,3465.4) rotate(-45) scale(1,1.05)" font-size="58.5" font-weight="bold" text-anchor="end" dy="20">72</text>
<line x1="715.3" y1="3392.4" x2="715.3" y2="3423.4" stroke="#000" stroke-width="5.0" />
<text transform="translate(721,3465.4) rotate(-45) scale(1,1.05)" font-size="58.5" font-weight="bold" text-anchor="end" dy="20">96</text>
<line x1="812.3" y1="3392.4" x2="812.3" y2="3423.4" stroke="#000" stroke-width="5.0" />
<text transform="translate(818,3465.4) rotate(-45) scale(1,1.05)" font-size="58.5" font-weight="bold" text-anchor="end" dy="20">120</text>
<line x1="909.3" y1="3392.4" x2="909.3" y2="3423.4" stroke="#000" stroke-width="5.0" />
<text transform="translate(915,3465.4) rotate(-45) scale(1,1.05)" font-size="58.5" font-weight="bold" text-anchor="end" dy="20">144</text>
<line x1="1277.4" y1="2807" x2="1277.4" y2="3280.5" stroke="#000" stroke-width="5.0" />
<line x1="1246.4" y1="2809.5" x2="1277.4" y2="2809.5" stroke="#000" stroke-width="5.0" />
<text transform="translate(1237.9,2831) scale(1,1.05)" font-size="58.5" font-weight="bold" text-anchor="end">7.5</text>
<line x1="1246.4" y1="2876.8" x2="1277.4" y2="2876.8" stroke="#000" stroke-width="5.0" />
<text transform="translate(1237.9,2898.3) scale(1,1.05)" font-size="58.5" font-weight="bold" text-anchor="end">7.0</text>
<line x1="1246.4" y1="2944.1" x2="1277.4" y2="2944.1" stroke="#000" stroke-width="5.0" />
<text transform="translate(1237.9,2965.6) scale(1,1.05)" font-size="58.5" font-weight="bold" text-anchor="end">6.5</text>
<line x1="1246.4" y1="3011.4" x2="1277.4" y2="3011.4" stroke="#000" stroke-width="5.0" />
<text transform="translate(1237.9,3032.9) scale(1,1.05)" font-size="58.5" font-weight="bold" text-anchor="end">6.0</text>
<line x1="1246.4" y1="3078.6" x2="1277.4" y2="3078.6" stroke="#000" stroke-width="5.0" />
<text transform="translate(1237.9,3100.1) scale(1,1.05)" font-size="58.5" font-weight="bold" text-anchor="end">5.5</text>
<line x1="1246.4" y1="3145.9" x2="1277.4" y2="3145.9" stroke="#000" stroke-width="5.0" />
<text transform="translate(1237.9,3167.4) scale(1,1.05)" font-size="58.5" font-weight="bold" text-anchor="end">5.0</text>
<line x1="1246.4" y1="3213.2" x2="1277.4" y2="3213.2" stroke="#000" stroke-width="5.0" />
<text transform="translate(1237.9,3234.7) scale(1,1.05)" font-size="58.5" font-weight="bold" text-anchor="end">4.5</text>
<line x1="1257.4" y1="3280.5" x2="1297.4" y2="3280.5" stroke="#000" stroke-width="5.0" />
<text transform="translate(1237.9,3302) scale(1,1.05)" font-size="58.5" font-weight="bold" text-anchor="end">4.0</text>
<line x1="1257.4" y1="3339" x2="1297.4" y2="3339" stroke="#000" stroke-width="5.0" />
<line x1="1277.4" y1="3339" x2="1277.4" y2="3392.4" stroke="#000" stroke-width="5.0" />
<text transform="translate(1247.4,3411.4) scale(1,1.05)" font-size="58.5" font-weight="bold" text-anchor="end">0</text>
<line x1="1859.9" y1="2807" x2="1859.9" y2="3394.9" stroke="#000" stroke-width="5.0" />
<line x1="1859.9" y1="2809.5" x2="1881.4" y2="2809.5" stroke="#000" stroke-width="5.0" />
<text transform="translate(1896.9,2829) scale(1,1.05)" font-size="58.5" font-weight="bold" text-anchor="start">11</text>
<line x1="1859.9" y1="2906.7" x2="1881.4" y2="2906.7" stroke="#000" stroke-width="5.0" />
<text transform="translate(1896.9,2926.2) scale(1,1.05)" font-size="58.5" font-weight="bold" text-anchor="start">10</text>
<line x1="1859.9" y1="3003.8" x2="1881.4" y2="3003.8" stroke="#000" stroke-width="5.0" />
<text transform="translate(1896.9,3023.3) scale(1,1.05)" font-size="58.5" font-weight="bold" text-anchor="start">9</text>
<line x1="1859.9" y1="3100.9" x2="1881.4" y2="3100.9" stroke="#000" stroke-width="5.0" />
<text transform="translate(1896.9,3120.4) scale(1,1.05)" font-size="58.5" font-weight="bold" text-anchor="start">8</text>
<line x1="1859.9" y1="3198.1" x2="1881.4" y2="3198.1" stroke="#000" stroke-width="5.0" />
<text transform="translate(1896.9,3217.6) scale(1,1.05)" font-size="58.5" font-weight="bold" text-anchor="start">7</text>
<line x1="1859.9" y1="3295.2" x2="1881.4" y2="3295.2" stroke="#000" stroke-width="5.0" />
<text transform="translate(1896.9,3314.8) scale(1,1.05)" font-size="58.5" font-weight="bold" text-anchor="start">6</text>
<line x1="1859.9" y1="3392.4" x2="1881.4" y2="3392.4" stroke="#000" stroke-width="5.0" />
<text transform="translate(1896.9,3411.9) scale(1,1.05)" font-size="58.5" font-weight="bold" text-anchor="start">5</text>
<line x1="1246.4" y1="3392.4" x2="1859.9" y2="3392.4" stroke="#000" stroke-width="5.0" />
<line x1="1277.4" y1="3392.4" x2="1277.4" y2="3423.4" stroke="#000" stroke-width="5.0" />
<text transform="translate(1283.1,3465.4) rotate(-45) scale(1,1.05)" font-size="58.5" font-weight="bold" text-anchor="end" dy="20">0</text>
<line x1="1373.7" y1="3392.4" x2="1373.7" y2="3423.4" stroke="#000" stroke-width="5.0" />
<text transform="translate(1379.4,3465.4) rotate(-45) scale(1,1.05)" font-size="58.5" font-weight="bold" text-anchor="end" dy="20">24</text>
<line x1="1470" y1="3392.4" x2="1470" y2="3423.4" stroke="#000" stroke-width="5.0" />
<text transform="translate(1475.7,3465.4) rotate(-45) scale(1,1.05)" font-size="58.5" font-weight="bold" text-anchor="end" dy="20">48</text>
<line x1="1566.3" y1="3392.4" x2="1566.3" y2="3423.4" stroke="#000" stroke-width="5.0" />
<text transform="translate(1572,3465.4) rotate(-45) scale(1,1.05)" font-size="58.5" font-weight="bold" text-anchor="end" dy="20">72</text>
<line x1="1662.7" y1="3392.4" x2="1662.7" y2="3423.4" stroke="#000" stroke-width="5.0" />
<text transform="translate(1668.4,3465.4) rotate(-45) scale(1,1.05)" font-size="58.5" font-weight="bold" text-anchor="end" dy="20">96</text>
<line x1="1759" y1="3392.4" x2="1759" y2="3423.4" stroke="#000" stroke-width="5.0" />
<text transform="translate(1764.7,3465.4) rotate(-45) scale(1,1.05)" font-size="58.5" font-weight="bold" text-anchor="end" dy="20">120</text>
<line x1="1855.3" y1="3392.4" x2="1855.3" y2="3423.4" stroke="#000" stroke-width="5.0" />
<text transform="translate(1861,3465.4) rotate(-45) scale(1,1.05)" font-size="58.5" font-weight="bold" text-anchor="end" dy="20">144</text>
<text x="617.2" y="107.5" font-size="57" font-weight="bold" text-anchor="middle" >2 harvests per day</text>
<text x="1569" y="107.5" font-size="57" font-weight="bold" text-anchor="middle" >2 harvests per day</text>
<text x="618" y="200" font-size="57" font-weight="bold" text-anchor="middle">33<tspan font-size="35" dy="-26">O</tspan><tspan dy="26">C (exp.7)</tspan></text>
<text x="1569.4" y="200" font-size="57" font-weight="bold" text-anchor="middle">33<tspan font-size="35" dy="-26">O</tspan><tspan dy="26">C - 0.5% TrypLE (exp.8)</tspan></text>
<text x="146" y="202.7" font-size="66" font-weight="bold" text-anchor="start" >A</text>
<text x="150.5" y="1048.5" font-size="64" font-weight="bold" text-anchor="start" >B</text>
<text x="152.5" y="1895.8" font-size="64" font-weight="bold" text-anchor="start" >C</text>
<text x="135.5" y="2746.7" font-size="64" font-weight="bold" text-anchor="start" >D</text>
<line x1="329.7" y1="769.4" x2="907" y2="769.4" stroke="#f04045" stroke-width="4.8" />
<line x1="329.7" y1="691.6" x2="903.3" y2="691.6" stroke="#0000bf" stroke-width="4.7" stroke-dasharray="12.5 6.8" stroke-linecap="butt"/>
<line x1="1279.7" y1="769.4" x2="1857.6" y2="769.4" stroke="#f04045" stroke-width="4.8" />
<line x1="1279.7" y1="691.6" x2="1853.9" y2="691.6" stroke="#0000bf" stroke-width="4.7" stroke-dasharray="12.5 6.8" stroke-linecap="butt"/>
<polyline points="327.3,483.5 343.4,506.8 364.3,551.4 381.2,586.4 381.2,491 406,565.9 422.1,625.4 422.1,491.7 446.9,595.6 451.7,571.3 464.2,637.7 464.2,494.3 489,633.4 489,492.1 505.1,615 505.1,496.4 530,690.5 530,504 551.1,650.6 551.1,430.7 572,649.5 572,447.3 593.1,639.8 593.1,404.8 614,637.7 614,439.3 634.9,642 634.9,410.2 634.9,462.4 655.4,621.5 655.4,473.2 676.1,590.2 676.1,460.2 697,580.5 697,460.2 718,578.4 718,537.4 738.4,575.1 738.4,465.2 759.1,606 759.1,477 780,607.5 780,483.1 804.9,638.8 804.9,486.7 825.3,619.4 825.3,496.4 846.3,614 846.3,485 871.3,659.9" fill="none" stroke="#000" stroke-width="4.9" stroke-linejoin="round" stroke-linecap="butt" />
<circle cx="327.3" cy="483.5" r="8.5" fill="#000"/>
<circle cx="343.4" cy="506.8" r="8.5" fill="#000"/>
<circle cx="364.3" cy="551.4" r="8.5" fill="#000"/>
<circle cx="381.2" cy="586.4" r="8.5" fill="#000"/>
<circle cx="381.2" cy="491" r="8.5" fill="#000"/>
<circle cx="406" cy="565.9" r="8.5" fill="#000"/>
<circle cx="422.1" cy="625.4" r="8.5" fill="#000"/>
<circle cx="422.1" cy="491.7" r="8.5" fill="#000"/>
<circle cx="446.9" cy="595.6" r="8.5" fill="#000"/>
<circle cx="451.7" cy="571.3" r="8.5" fill="#000"/>
<circle cx="464.2" cy="637.7" r="8.5" fill="#000"/>
<circle cx="464.2" cy="494.3" r="8.5" fill="#000"/>
<circle cx="489" cy="633.4" r="8.5" fill="#000"/>
<circle cx="489" cy="492.1" r="8.5" fill="#000"/>
<circle cx="505.1" cy="615" r="8.5" fill="#000"/>
<circle cx="505.1" cy="496.4" r="8.5" fill="#000"/>
<circle cx="530" cy="690.5" r="8.5" fill="#000"/>
<circle cx="530" cy="504" r="8.5" fill="#000"/>
<circle cx="551.1" cy="650.6" r="8.5" fill="#000"/>
<circle cx="551.1" cy="430.7" r="8.5" fill="#000"/>
<circle cx="572" cy="649.5" r="8.5" fill="#000"/>
<circle cx="572" cy="447.3" r="8.5" fill="#000"/>
<circle cx="593.1" cy="639.8" r="8.5" fill="#000"/>
<circle cx="593.1" cy="404.8" r="8.5" fill="#000"/>
<circle cx="614" cy="637.7" r="8.5" fill="#000"/>
<circle cx="614" cy="439.3" r="8.5" fill="#000"/>
<circle cx="634.9" cy="642" r="8.5" fill="#000"/>
<circle cx="634.9" cy="410.2" r="8.5" fill="#000"/>
<circle cx="634.9" cy="462.4" r="8.5" fill="#000"/>
<circle cx="655.4" cy="621.5" r="8.5" fill="#000"/>
<circle cx="655.4" cy="473.2" r="8.5" fill="#000"/>
<circle cx="676.1" cy="590.2" r="8.5" fill="#000"/>
<circle cx="676.1" cy="460.2" r="8.5" fill="#000"/>
<circle cx="697" cy="580.5" r="8.5" fill="#000"/>
<circle cx="697" cy="460.2" r="8.5" fill="#000"/>
<circle cx="718" cy="578.4" r="8.5" fill="#000"/>
<circle cx="718" cy="537.4" r="8.5" fill="#000"/>
<circle cx="738.4" cy="575.1" r="8.5" fill="#000"/>
<circle cx="738.4" cy="465.2" r="8.5" fill="#000"/>
<circle cx="759.1" cy="606" r="8.5" fill="#000"/>
<circle cx="759.1" cy="477" r="8.5" fill="#000"/>
<circle cx="780" cy="607.5" r="8.5" fill="#000"/>
<circle cx="780" cy="483.1" r="8.5" fill="#000"/>
<circle cx="804.9" cy="638.8" r="8.5" fill="#000"/>
<circle cx="804.9" cy="486.7" r="8.5" fill="#000"/>
<circle cx="825.3" cy="619.4" r="8.5" fill="#000"/>
<circle cx="825.3" cy="496.4" r="8.5" fill="#000"/>
<circle cx="846.3" cy="614" r="8.5" fill="#000"/>
<circle cx="846.3" cy="485" r="8.5" fill="#000"/>
<circle cx="871.3" cy="659.9" r="8.5" fill="#000"/>
<polyline points="327.3,713.7 343.4,685.9 364.3,685.9 381.2,713.7 381.2,658.1 406,685.9 422.1,713.7 422.1,685.9 446.9,713.7 451.7,685.9 464.2,713.7 464.2,658.1 489,741.4 489,685.9 505.1,713.7 505.1,630.4 530,741.4 530,658.1 551.1,741.4 551.1,658.1 572,797 572,685.9 593.1,769.2 593.1,630.4 614,769.2 614,658.1 634.9,769.2 634.9,658.1 655.4,741.4 655.4,685.9 676.1,741.4 676.1,658.1 697,685.9 697,658.1 718,602.6 738.4,685.9 738.4,602.6 759.1,741.4 759.1,658.1 780,741.4 780,658.1 804.9,769.2 804.9,658.1 825.3,769.2 825.3,658.1 846.3,741.4 846.3,658.1 871.3,824.7" fill="none" stroke="#a0a0a6" stroke-width="4.0" stroke-linejoin="round" stroke-linecap="butt" />
<circle cx="327.3" cy="713.7" r="8.4" fill="#a0a0a6"/>
<circle cx="343.4" cy="685.9" r="8.4" fill="#a0a0a6"/>
<circle cx="364.3" cy="685.9" r="8.4" fill="#a0a0a6"/>
<circle cx="381.2" cy="713.7" r="8.4" fill="#a0a0a6"/>
<circle cx="381.2" cy="658.1" r="8.4" fill="#a0a0a6"/>
<circle cx="406" cy="685.9" r="8.4" fill="#a0a0a6"/>
<circle cx="422.1" cy="713.7" r="8.4" fill="#a0a0a6"/>
<circle cx="422.1" cy="685.9" r="8.4" fill="#a0a0a6"/>
<circle cx="446.9" cy="713.7" r="8.4" fill="#a0a0a6"/>
<circle cx="451.7" cy="685.9" r="8.4" fill="#a0a0a6"/>
<circle cx="464.2" cy="713.7" r="8.4" fill="#a0a0a6"/>
<circle cx="464.2" cy="658.1" r="8.4" fill="#a0a0a6"/>
<circle cx="489" cy="741.4" r="8.4" fill="#a0a0a6"/>
<circle cx="489" cy="685.9" r="8.4" fill="#a0a0a6"/>
<circle cx="505.1" cy="713.7" r="8.4" fill="#a0a0a6"/>
<circle cx="505.1" cy="630.4" r="8.4" fill="#a0a0a6"/>
<circle cx="530" cy="741.4" r="8.4" fill="#a0a0a6"/>
<circle cx="530" cy="658.1" r="8.4" fill="#a0a0a6"/>
<circle cx="551.1" cy="741.4" r="8.4" fill="#a0a0a6"/>
<circle cx="551.1" cy="658.1" r="8.4" fill="#a0a0a6"/>
<circle cx="572" cy="797" r="8.4" fill="#a0a0a6"/>
<circle cx="572" cy="685.9" r="8.4" fill="#a0a0a6"/>
<circle cx="593.1" cy="769.2" r="8.4" fill="#a0a0a6"/>
<circle cx="593.1" cy="630.4" r="8.4" fill="#a0a0a6"/>
<circle cx="614" cy="769.2" r="8.4" fill="#a0a0a6"/>
<circle cx="614" cy="658.1" r="8.4" fill="#a0a0a6"/>
<circle cx="634.9" cy="769.2" r="8.4" fill="#a0a0a6"/>
<circle cx="634.9" cy="658.1" r="8.4" fill="#a0a0a6"/>
<circle cx="655.4" cy="741.4" r="8.4" fill="#a0a0a6"/>
<circle cx="655.4" cy="685.9" r="8.4" fill="#a0a0a6"/>
<circle cx="676.1" cy="741.4" r="8.4" fill="#a0a0a6"/>
<circle cx="676.1" cy="658.1" r="8.4" fill="#a0a0a6"/>
<circle cx="697" cy="685.9" r="8.4" fill="#a0a0a6"/>
<circle cx="697" cy="658.1" r="8.4" fill="#a0a0a6"/>
<circle cx="718" cy="602.6" r="8.4" fill="#a0a0a6"/>
<circle cx="738.4" cy="685.9" r="8.4" fill="#a0a0a6"/>
<circle cx="738.4" cy="602.6" r="8.4" fill="#a0a0a6"/>
<circle cx="759.1" cy="741.4" r="8.4" fill="#a0a0a6"/>
<circle cx="759.1" cy="658.1" r="8.4" fill="#a0a0a6"/>
<circle cx="780" cy="741.4" r="8.4" fill="#a0a0a6"/>
<circle cx="780" cy="658.1" r="8.4" fill="#a0a0a6"/>
<circle cx="804.9" cy="769.2" r="8.4" fill="#a0a0a6"/>
<circle cx="804.9" cy="658.1" r="8.4" fill="#a0a0a6"/>
<circle cx="825.3" cy="769.2" r="8.4" fill="#a0a0a6"/>
<circle cx="825.3" cy="658.1" r="8.4" fill="#a0a0a6"/>
<circle cx="846.3" cy="741.4" r="8.4" fill="#a0a0a6"/>
<circle cx="846.3" cy="658.1" r="8.4" fill="#a0a0a6"/>
<circle cx="871.3" cy="824.7" r="8.4" fill="#a0a0a6"/>
<polyline points="1277.3,477 1293.4,509.4 1314.3,553.6 1331.2,588.1 1331.2,485.2 1356.4,575.1 1377.1,649.5 1377.1,491 1396.9,598.9 1397.4,563.3 1414.2,645.2 1414.2,492.1 1439,633.4 1439,493.2 1456.2,620.4 1456.2,490 1480.4,707.4 1480.4,497.5 1497.2,690.1 1497.2,398.3 1523.1,668.6 1523.1,438.2 1539.2,643.1 1539.2,391.9 1562.5,687.3 1564,433.9 1580.2,683 1580.2,391.9 1584.9,469.5 1606.1,630.1 1606.1,463 1626.1,635.5 1626.1,454.4 1647,607.5 1647,463 1668,590.2 1668,488.9 1689.1,578.4 1689.1,513.7 1709.6,606 1709.6,492.1 1730.2,572.2 1751.4,549.7 1751.4,524 1772.3,567" fill="none" stroke="#000" stroke-width="4.9" stroke-linejoin="round" stroke-linecap="butt" />
<circle cx="1277.3" cy="477" r="8.5" fill="#000"/>
<circle cx="1293.4" cy="509.4" r="8.5" fill="#000"/>
<circle cx="1314.3" cy="553.6" r="8.5" fill="#000"/>
<circle cx="1331.2" cy="588.1" r="8.5" fill="#000"/>
<circle cx="1331.2" cy="485.2" r="8.5" fill="#000"/>
<circle cx="1356.4" cy="575.1" r="8.5" fill="#000"/>
<circle cx="1377.1" cy="649.5" r="8.5" fill="#000"/>
<circle cx="1377.1" cy="491" r="8.5" fill="#000"/>
<circle cx="1396.9" cy="598.9" r="8.5" fill="#000"/>
<circle cx="1397.4" cy="563.3" r="8.5" fill="#000"/>
<circle cx="1414.2" cy="645.2" r="8.5" fill="#000"/>
<circle cx="1414.2" cy="492.1" r="8.5" fill="#000"/>
<circle cx="1439" cy="633.4" r="8.5" fill="#000"/>
<circle cx="1439" cy="493.2" r="8.5" fill="#000"/>
<circle cx="1456.2" cy="620.4" r="8.5" fill="#000"/>
<circle cx="1456.2" cy="490" r="8.5" fill="#000"/>
<circle cx="1480.4" cy="707.4" r="8.5" fill="#000"/>
<circle cx="1480.4" cy="497.5" r="8.5" fill="#000"/>
<circle cx="1497.2" cy="690.1" r="8.5" fill="#000"/>
<circle cx="1497.2" cy="398.3" r="8.5" fill="#000"/>
<circle cx="1523.1" cy="668.6" r="8.5" fill="#000"/>
<circle cx="1523.1" cy="438.2" r="8.5" fill="#000"/>
<circle cx="1539.2" cy="643.1" r="8.5" fill="#000"/>
<circle cx="1539.2" cy="391.9" r="8.5" fill="#000"/>
<circle cx="1562.5" cy="687.3" r="8.5" fill="#000"/>
<circle cx="1564" cy="433.9" r="8.5" fill="#000"/>
<circle cx="1580.2" cy="683" r="8.5" fill="#000"/>
<circle cx="1580.2" cy="391.9" r="8.5" fill="#000"/>
<circle cx="1584.9" cy="469.5" r="8.5" fill="#000"/>
<circle cx="1606.1" cy="630.1" r="8.5" fill="#000"/>
<circle cx="1606.1" cy="463" r="8.5" fill="#000"/>
<circle cx="1626.1" cy="635.5" r="8.5" fill="#000"/>
<circle cx="1626.1" cy="454.4" r="8.5" fill="#000"/>
<circle cx="1647" cy="607.5" r="8.5" fill="#000"/>
<circle cx="1647" cy="463" r="8.5" fill="#000"/>
<circle cx="1668" cy="590.2" r="8.5" fill="#000"/>
<circle cx="1668" cy="488.9" r="8.5" fill="#000"/>
<circle cx="1689.1" cy="578.4" r="8.5" fill="#000"/>
<circle cx="1689.1" cy="513.7" r="8.5" fill="#000"/>
<circle cx="1709.6" cy="606" r="8.5" fill="#000"/>
<circle cx="1709.6" cy="492.1" r="8.5" fill="#000"/>
<circle cx="1730.2" cy="572.2" r="8.5" fill="#000"/>
<circle cx="1751.4" cy="549.7" r="8.5" fill="#000"/>
<circle cx="1751.4" cy="524" r="8.5" fill="#000"/>
<circle cx="1772.3" cy="567" r="8.5" fill="#000"/>
<polyline points="1277.3,658.1 1293.4,685.9 1314.3,685.9 1331.2,713.7 1331.2,630.4 1356.4,685.9 1377.1,741.4 1377.1,685.9 1396.9,713.7 1397.4,685.9 1414.2,741.4 1414.2,658.1 1439,741.4 1439,685.9 1456.2,741.4 1456.2,685.9 1480.4,797 1480.4,658.1 1497.2,741.4 1497.2,630.4 1523.1,769.2 1523.1,685.9 1539.2,797 1539.2,630.4 1564,797 1564,658.1 1580.2,769.2 1580.2,630.4 1584.9,630.4 1606.1,797 1606.1,602.6 1626.1,797 1626.1,658.1 1647,741.4 1647,602.6 1668,741.4 1668,602.6 1689.1,741.4 1689.1,602.6 1709.6,797 1709.6,547.1 1730.6,685.9 1730.6,658.1 1751.4,685.9 1772.3,685.9" fill="none" stroke="#a0a0a6" stroke-width="4.0" stroke-linejoin="round" stroke-linecap="butt" />
<circle cx="1277.3" cy="658.1" r="8.4" fill="#a0a0a6"/>
<circle cx="1293.4" cy="685.9" r="8.4" fill="#a0a0a6"/>
<circle cx="1314.3" cy="685.9" r="8.4" fill="#a0a0a6"/>
<circle cx="1331.2" cy="713.7" r="8.4" fill="#a0a0a6"/>
<circle cx="1331.2" cy="630.4" r="8.4" fill="#a0a0a6"/>
<circle cx="1356.4" cy="685.9" r="8.4" fill="#a0a0a6"/>
<circle cx="1377.1" cy="741.4" r="8.4" fill="#a0a0a6"/>
<circle cx="1377.1" cy="685.9" r="8.4" fill="#a0a0a6"/>
<circle cx="1396.9" cy="713.7" r="8.4" fill="#a0a0a6"/>
<circle cx="1397.4" cy="685.9" r="8.4" fill="#a0a0a6"/>
<circle cx="1414.2" cy="741.4" r="8.4" fill="#a0a0a6"/>
<circle cx="1414.2" cy="658.1" r="8.4" fill="#a0a0a6"/>
<circle cx="1439" cy="741.4" r="8.4" fill="#a0a0a6"/>
<circle cx="1439" cy="685.9" r="8.4" fill="#a0a0a6"/>
<circle cx="1456.2" cy="741.4" r="8.4" fill="#a0a0a6"/>
<circle cx="1456.2" cy="685.9" r="8.4" fill="#a0a0a6"/>
<circle cx="1480.4" cy="797" r="8.4" fill="#a0a0a6"/>
<circle cx="1480.4" cy="658.1" r="8.4" fill="#a0a0a6"/>
<circle cx="1497.2" cy="741.4" r="8.4" fill="#a0a0a6"/>
<circle cx="1497.2" cy="630.4" r="8.4" fill="#a0a0a6"/>
<circle cx="1523.1" cy="769.2" r="8.4" fill="#a0a0a6"/>
<circle cx="1523.1" cy="685.9" r="8.4" fill="#a0a0a6"/>
<circle cx="1539.2" cy="797" r="8.4" fill="#a0a0a6"/>
<circle cx="1539.2" cy="630.4" r="8.4" fill="#a0a0a6"/>
<circle cx="1564" cy="797" r="8.4" fill="#a0a0a6"/>
<circle cx="1564" cy="658.1" r="8.4" fill="#a0a0a6"/>
<circle cx="1580.2" cy="769.2" r="8.4" fill="#a0a0a6"/>
<circle cx="1580.2" cy="630.4" r="8.4" fill="#a0a0a6"/>
<circle cx="1584.9" cy="630.4" r="8.4" fill="#a0a0a6"/>
<circle cx="1606.1" cy="797" r="8.4" fill="#a0a0a6"/>
<circle cx="1606.1" cy="602.6" r="8.4" fill="#a0a0a6"/>
<circle cx="1626.1" cy="797" r="8.4" fill="#a0a0a6"/>
<circle cx="1626.1" cy="658.1" r="8.4" fill="#a0a0a6"/>
<circle cx="1647" cy="741.4" r="8.4" fill="#a0a0a6"/>
<circle cx="1647" cy="602.6" r="8.4" fill="#a0a0a6"/>
<circle cx="1668" cy="741.4" r="8.4" fill="#a0a0a6"/>
<circle cx="1668" cy="602.6" r="8.4" fill="#a0a0a6"/>
<circle cx="1689.1" cy="741.4" r="8.4" fill="#a0a0a6"/>
<circle cx="1689.1" cy="602.6" r="8.4" fill="#a0a0a6"/>
<circle cx="1709.6" cy="797" r="8.4" fill="#a0a0a6"/>
<circle cx="1709.6" cy="547.1" r="8.4" fill="#a0a0a6"/>
<circle cx="1730.6" cy="685.9" r="8.4" fill="#a0a0a6"/>
<circle cx="1730.6" cy="658.1" r="8.4" fill="#a0a0a6"/>
<circle cx="1751.4" cy="685.9" r="8.4" fill="#a0a0a6"/>
<circle cx="1772.3" cy="685.9" r="8.4" fill="#a0a0a6"/>
<text x="618.3" y="1029" font-size="57" font-weight="normal" text-anchor="middle" >Day post cell seeding</text>
<text x="1568.7" y="1029" font-size="57" font-weight="normal" text-anchor="middle" >Day post cell seeding</text>
<polyline points="331.2,1692.9 343.5,1652.4 364.2,1567.5 380.8,1504.2 380.8,1676 405.5,1545.5 422.5,1447.6 422.5,1670.5 447.3,1494.8 451,1481.8 463.8,1385.1 463.8,1664.6 488.5,1441.3 488.5,1671.7 505.3,1473.1 505.3,1671.7 530,1363.2 530,1658.7 550.6,1421.7 550.6,1669.8 571.8,1287.3 571.8,1645.8 593,1335.6 593,1654 613.5,1283.7 613.5,1650.5 634.8,1328.5 634.8,1657.5" fill="none" stroke="#a0a0a6" stroke-width="4.9" stroke-linejoin="round" stroke-linecap="butt" />
<circle cx="331.2" cy="1692.9" r="8.4" fill="#a0a0a6"/>
<circle cx="343.5" cy="1652.4" r="8.4" fill="#a0a0a6"/>
<circle cx="364.2" cy="1567.5" r="8.4" fill="#a0a0a6"/>
<circle cx="380.8" cy="1504.2" r="8.4" fill="#a0a0a6"/>
<circle cx="380.8" cy="1676" r="8.4" fill="#a0a0a6"/>
<circle cx="405.5" cy="1545.5" r="8.4" fill="#a0a0a6"/>
<circle cx="422.5" cy="1447.6" r="8.4" fill="#a0a0a6"/>
<circle cx="422.5" cy="1670.5" r="8.4" fill="#a0a0a6"/>
<circle cx="447.3" cy="1494.8" r="8.4" fill="#a0a0a6"/>
<circle cx="451" cy="1481.8" r="8.4" fill="#a0a0a6"/>
<circle cx="463.8" cy="1385.1" r="8.4" fill="#a0a0a6"/>
<circle cx="463.8" cy="1664.6" r="8.4" fill="#a0a0a6"/>
<circle cx="488.5" cy="1441.3" r="8.4" fill="#a0a0a6"/>
<circle cx="488.5" cy="1671.7" r="8.4" fill="#a0a0a6"/>
<circle cx="505.3" cy="1473.1" r="8.4" fill="#a0a0a6"/>
<circle cx="505.3" cy="1671.7" r="8.4" fill="#a0a0a6"/>
<circle cx="530" cy="1363.2" r="8.4" fill="#a0a0a6"/>
<circle cx="530" cy="1658.7" r="8.4" fill="#a0a0a6"/>
<circle cx="550.6" cy="1421.7" r="8.4" fill="#a0a0a6"/>
<circle cx="550.6" cy="1669.8" r="8.4" fill="#a0a0a6"/>
<circle cx="571.8" cy="1287.3" r="8.4" fill="#a0a0a6"/>
<circle cx="571.8" cy="1645.8" r="8.4" fill="#a0a0a6"/>
<circle cx="593" cy="1335.6" r="8.4" fill="#a0a0a6"/>
<circle cx="593" cy="1654" r="8.4" fill="#a0a0a6"/>
<circle cx="613.5" cy="1283.7" r="8.4" fill="#a0a0a6"/>
<circle cx="613.5" cy="1650.5" r="8.4" fill="#a0a0a6"/>
<circle cx="634.8" cy="1328.5" r="8.4" fill="#a0a0a6"/>
<circle cx="634.8" cy="1657.5" r="8.4" fill="#a0a0a6"/>
<polyline points="1277,1694.8 1293.5,1640.6 1314.2,1555.7 1331.2,1492 1331.2,1676 1355.5,1520.3 1376.3,1397.6 1376.3,1666 1396.9,1490.5 1397.8,1486.5 1413.8,1354.7 1413.8,1663 1438.5,1426.4 1438.5,1671.7 1455.3,1456.1 1455.3,1665.3 1480.1,1339.4 1480.1,1659.4 1497,1350.5 1497,1656.6 1522.3,1233 1522.3,1641.7 1538.8,1326.4 1538.8,1641 1564.2,1177.1 1564.2,1641.7 1580.3,1246.7 1580.3,1645.8" fill="none" stroke="#a0a0a6" stroke-width="4.9" stroke-linejoin="round" stroke-linecap="butt" />
<circle cx="1277" cy="1694.8" r="8.4" fill="#a0a0a6"/>
<circle cx="1293.5" cy="1640.6" r="8.4" fill="#a0a0a6"/>
<circle cx="1314.2" cy="1555.7" r="8.4" fill="#a0a0a6"/>
<circle cx="1331.2" cy="1492" r="8.4" fill="#a0a0a6"/>
<circle cx="1331.2" cy="1676" r="8.4" fill="#a0a0a6"/>
<circle cx="1355.5" cy="1520.3" r="8.4" fill="#a0a0a6"/>
<circle cx="1376.3" cy="1397.6" r="8.4" fill="#a0a0a6"/>
<circle cx="1376.3" cy="1666" r="8.4" fill="#a0a0a6"/>
<circle cx="1396.9" cy="1490.5" r="8.4" fill="#a0a0a6"/>
<circle cx="1397.8" cy="1486.5" r="8.4" fill="#a0a0a6"/>
<circle cx="1413.8" cy="1354.7" r="8.4" fill="#a0a0a6"/>
<circle cx="1413.8" cy="1663" r="8.4" fill="#a0a0a6"/>
<circle cx="1438.5" cy="1426.4" r="8.4" fill="#a0a0a6"/>
<circle cx="1438.5" cy="1671.7" r="8.4" fill="#a0a0a6"/>
<circle cx="1455.3" cy="1456.1" r="8.4" fill="#a0a0a6"/>
<circle cx="1455.3" cy="1665.3" r="8.4" fill="#a0a0a6"/>
<circle cx="1480.1" cy="1339.4" r="8.4" fill="#a0a0a6"/>
<circle cx="1480.1" cy="1659.4" r="8.4" fill="#a0a0a6"/>
<circle cx="1497" cy="1350.5" r="8.4" fill="#a0a0a6"/>
<circle cx="1497" cy="1656.6" r="8.4" fill="#a0a0a6"/>
<circle cx="1522.3" cy="1233" r="8.4" fill="#a0a0a6"/>
<circle cx="1522.3" cy="1641.7" r="8.4" fill="#a0a0a6"/>
<circle cx="1538.8" cy="1326.4" r="8.4" fill="#a0a0a6"/>
<circle cx="1538.8" cy="1641" r="8.4" fill="#a0a0a6"/>
<circle cx="1564.2" cy="1177.1" r="8.4" fill="#a0a0a6"/>
<circle cx="1564.2" cy="1641.7" r="8.4" fill="#a0a0a6"/>
<circle cx="1580.3" cy="1246.7" r="8.4" fill="#a0a0a6"/>
<circle cx="1580.3" cy="1645.8" r="8.4" fill="#a0a0a6"/>
<text x="618.3" y="1875.5" font-size="57" font-weight="normal" text-anchor="middle" >Day post cell seeding</text>
<text x="1568.7" y="1875.5" font-size="57" font-weight="normal" text-anchor="middle" >Day post cell seeding</text>
<polyline points="368.5,2523.4 410.3,2488.7 452.1,2462.4 493,2333.3 534.8,2218.4 576.1,2150.3 617.9,2091.8" fill="none" stroke="#000" stroke-width="5.0" stroke-linejoin="round" stroke-linecap="butt" />
<circle cx="368.5" cy="2523.4" r="8.5" fill="#000"/>
<circle cx="410.3" cy="2488.7" r="8.5" fill="#000"/>
<circle cx="452.1" cy="2462.4" r="8.5" fill="#000"/>
<circle cx="493" cy="2333.3" r="8.5" fill="#000"/>
<circle cx="534.8" cy="2218.4" r="8.5" fill="#000"/>
<circle cx="576.1" cy="2150.3" r="8.5" fill="#000"/>
<circle cx="617.9" cy="2091.8" r="8.5" fill="#000"/>
<polyline points="368.5,2492 410.3,2428.1 452.1,2421.8 493,2390.5 534.8,2305.7 576.1,2271.4 617.9,2224.6 659,2265.2 700.6,2364.2 742.4,2421.8 783.4,2335.4 825.1,2323.7 866.9,2325.8" fill="none" stroke="#a0a0a6" stroke-width="5.0" stroke-linejoin="round" stroke-linecap="butt" />
<circle cx="368.5" cy="2492" r="8.6" fill="#a0a0a6"/>
<circle cx="410.3" cy="2428.1" r="8.6" fill="#a0a0a6"/>
<circle cx="452.1" cy="2421.8" r="8.6" fill="#a0a0a6"/>
<circle cx="493" cy="2390.5" r="8.6" fill="#a0a0a6"/>
<circle cx="534.8" cy="2305.7" r="8.6" fill="#a0a0a6"/>
<circle cx="576.1" cy="2271.4" r="8.6" fill="#a0a0a6"/>
<circle cx="617.9" cy="2224.6" r="8.6" fill="#a0a0a6"/>
<circle cx="659" cy="2265.2" r="8.6" fill="#a0a0a6"/>
<circle cx="700.6" cy="2364.2" r="8.6" fill="#a0a0a6"/>
<circle cx="742.4" cy="2421.8" r="8.6" fill="#a0a0a6"/>
<circle cx="783.4" cy="2335.4" r="8.6" fill="#a0a0a6"/>
<circle cx="825.1" cy="2323.7" r="8.6" fill="#a0a0a6"/>
<circle cx="866.9" cy="2325.8" r="8.6" fill="#a0a0a6"/>
<polyline points="1318.5,2515.8 1360.3,2486.6 1402,2444.8 1443,2329.9 1484.8,2173.2 1526.1,2245.5 1567.9,2115.6" fill="none" stroke="#000" stroke-width="5.0" stroke-linejoin="round" stroke-linecap="butt" />
<circle cx="1318.5" cy="2515.8" r="8.5" fill="#000"/>
<circle cx="1360.3" cy="2486.6" r="8.5" fill="#000"/>
<circle cx="1402" cy="2444.8" r="8.5" fill="#000"/>
<circle cx="1443" cy="2329.9" r="8.5" fill="#000"/>
<circle cx="1484.8" cy="2173.2" r="8.5" fill="#000"/>
<circle cx="1526.1" cy="2245.5" r="8.5" fill="#000"/>
<circle cx="1567.9" cy="2115.6" r="8.5" fill="#000"/>
<polyline points="1318.5,2486.6 1360.3,2451.9 1402,2408 1443,2375.9 1484.8,2289 1526.1,2198.3 1567.9,2169.9 1609.7,2230.5 1650.6,2295.2 1692.4,2375.9 1734.2,2419.8" fill="none" stroke="#a0a0a6" stroke-width="5.0" stroke-linejoin="round" stroke-linecap="butt" />
<circle cx="1318.5" cy="2486.6" r="8.6" fill="#a0a0a6"/>
<circle cx="1360.3" cy="2451.9" r="8.6" fill="#a0a0a6"/>
<circle cx="1402" cy="2408" r="8.6" fill="#a0a0a6"/>
<circle cx="1443" cy="2375.9" r="8.6" fill="#a0a0a6"/>
<circle cx="1484.8" cy="2289" r="8.6" fill="#a0a0a6"/>
<circle cx="1526.1" cy="2198.3" r="8.6" fill="#a0a0a6"/>
<circle cx="1567.9" cy="2169.9" r="8.6" fill="#a0a0a6"/>
<circle cx="1609.7" cy="2230.5" r="8.6" fill="#a0a0a6"/>
<circle cx="1650.6" cy="2295.2" r="8.6" fill="#a0a0a6"/>
<circle cx="1692.4" cy="2375.9" r="8.6" fill="#a0a0a6"/>
<circle cx="1734.2" cy="2419.8" r="8.6" fill="#a0a0a6"/>
<text x="618.3" y="2722.3" font-size="57" font-weight="normal" text-anchor="middle" >Day post cell seeding</text>
<text x="1568.7" y="2722.3" font-size="57" font-weight="normal" text-anchor="middle" >Day post cell seeding</text>
<rect x="357.8" y="3339" width="32.5" height="51.1" fill="#d3d3d3"/>
<rect x="405.8" y="3339" width="32.5" height="51.1" fill="#d3d3d3"/>
<rect x="405.8" y="3055.9" width="32.5" height="224.6" fill="#d3d3d3"/>
<rect x="454.8" y="3339" width="32.5" height="51.1" fill="#d3d3d3"/>
<rect x="454.8" y="2907.9" width="32.5" height="372.6" fill="#d3d3d3"/>
<rect x="504.8" y="3339" width="32.5" height="51.1" fill="#d3d3d3"/>
<rect x="504.8" y="2903.8" width="32.5" height="376.7" fill="#d3d3d3"/>
<rect x="547.8" y="3339" width="32.5" height="51.1" fill="#d3d3d3"/>
<rect x="547.8" y="2844.8" width="32.5" height="435.7" fill="#d3d3d3"/>
<rect x="602" y="3339" width="32.5" height="51.1" fill="#d3d3d3"/>
<rect x="602" y="2840.8" width="32.5" height="439.7" fill="#d3d3d3"/>
<rect x="648.8" y="3339" width="32.5" height="51.1" fill="#d3d3d3"/>
<rect x="648.8" y="2939.8" width="32.5" height="340.7" fill="#d3d3d3"/>
<rect x="708" y="3339" width="32.5" height="51.1" fill="#d3d3d3"/>
<rect x="708" y="2943.9" width="32.5" height="336.6" fill="#d3d3d3"/>
<rect x="758" y="3339" width="32.5" height="51.1" fill="#d3d3d3"/>
<rect x="758" y="2966.1" width="32.5" height="314.4" fill="#d3d3d3"/>
<rect x="801.6" y="3339" width="32.5" height="51.1" fill="#d3d3d3"/>
<rect x="801.6" y="2966.1" width="32.5" height="314.4" fill="#d3d3d3"/>
<rect x="860.5" y="3339" width="32.5" height="51.1" fill="#d3d3d3"/>
<rect x="860.5" y="2966.1" width="32.5" height="314.4" fill="#d3d3d3"/>
<line x1="422" y1="3055.9" x2="422" y2="3034.8" stroke="#000" stroke-width="3.0" />
<line x1="414" y1="3034.8" x2="430" y2="3034.8" stroke="#000" stroke-width="3.0" />
<line x1="471" y1="2907.9" x2="471" y2="2869.1" stroke="#000" stroke-width="3.0" />
<line x1="463" y1="2869.1" x2="479" y2="2869.1" stroke="#000" stroke-width="3.0" />
<line x1="521" y1="2903.8" x2="521" y2="2836.7" stroke="#000" stroke-width="3.0" />
<line x1="513" y1="2836.7" x2="529" y2="2836.7" stroke="#000" stroke-width="3.0" />
<line x1="564" y1="2844.8" x2="564" y2="2826.6" stroke="#000" stroke-width="3.0" />
<line x1="556" y1="2826.6" x2="572" y2="2826.6" stroke="#000" stroke-width="3.0" />
<line x1="618.2" y1="2840.8" x2="618.2" y2="2835.9" stroke="#000" stroke-width="3.0" />
<line x1="610.2" y1="2835.9" x2="626.2" y2="2835.9" stroke="#000" stroke-width="3.0" />
<line x1="665" y1="2939.8" x2="665" y2="2867" stroke="#000" stroke-width="3.0" />
<line x1="657" y1="2867" x2="673" y2="2867" stroke="#000" stroke-width="3.0" />
<line x1="724.2" y1="2943.9" x2="724.2" y2="2929.7" stroke="#000" stroke-width="3.0" />
<line x1="716.2" y1="2929.7" x2="732.2" y2="2929.7" stroke="#000" stroke-width="3.0" />
<line x1="774.2" y1="2966.1" x2="774.2" y2="2944.7" stroke="#000" stroke-width="3.0" />
<line x1="766.2" y1="2944.7" x2="782.2" y2="2944.7" stroke="#000" stroke-width="3.0" />
<line x1="817.9" y1="2966.1" x2="817.9" y2="2939.8" stroke="#000" stroke-width="3.0" />
<line x1="809.9" y1="2939.8" x2="825.9" y2="2939.8" stroke="#000" stroke-width="3.0" />
<line x1="876.8" y1="2966.1" x2="876.8" y2="2944.7" stroke="#000" stroke-width="3.0" />
<line x1="868.8" y1="2944.7" x2="884.8" y2="2944.7" stroke="#000" stroke-width="3.0" />
<path d="M372.6 3148.6L388.2 3164.2L372.6 3179.8L357 3164.2Z" fill="none" stroke="#f04045" stroke-width="4.9" stroke-linejoin="miter"/>
<path d="M421.1 2937.6L436.7 2953.2L421.1 2968.8L405.5 2953.2Z" fill="none" stroke="#f04045" stroke-width="4.9" stroke-linejoin="miter"/>
<path d="M470.8 2829.2L486.4 2844.8L470.8 2860.4L455.2 2844.8Z" fill="none" stroke="#f04045" stroke-width="4.9" stroke-linejoin="miter"/>
<path d="M521 2815L536.6 2830.6L521 2846.2L505.4 2830.6Z" fill="none" stroke="#f04045" stroke-width="4.9" stroke-linejoin="miter"/>
<path d="M563 2815L578.6 2830.6L563 2846.2L547.4 2830.6Z" fill="none" stroke="#f04045" stroke-width="4.9" stroke-linejoin="miter"/>
<path d="M618 2805.7L633.6 2821.3L618 2836.9L602.4 2821.3Z" fill="none" stroke="#f04045" stroke-width="4.9" stroke-linejoin="miter"/>
<path d="M664.5 2809L680.1 2824.6L664.5 2840.2L648.9 2824.6Z" fill="none" stroke="#f04045" stroke-width="4.9" stroke-linejoin="miter"/>
<path d="M723.5 2794L739.1 2809.6L723.5 2825.2L707.9 2809.6Z" fill="none" stroke="#f04045" stroke-width="4.9" stroke-linejoin="miter"/>
<path d="M773.6 2821.1L789.2 2836.7L773.6 2852.3L758 2836.7Z" fill="none" stroke="#f04045" stroke-width="4.9" stroke-linejoin="miter"/>
<path d="M817.3 2839.3L832.9 2854.9L817.3 2870.5L801.7 2854.9Z" fill="none" stroke="#f04045" stroke-width="4.9" stroke-linejoin="miter"/>
<path d="M876.7 2870.4L892.3 2886L876.7 2901.6L861.1 2886Z" fill="none" stroke="#f04045" stroke-width="4.9" stroke-linejoin="miter"/>
<polyline points="372.6,3260.2 421.1,3069.2 470.8,2959.2 521,2930.5 563,2892.1 618,2871.1 664.5,2867 723.5,2865.8 773.6,2863.8 817.3,2863 876.7,2861" fill="none" stroke="#000" stroke-width="4.6" stroke-linejoin="round" stroke-linecap="butt" />
<circle cx="372.6" cy="3260.2" r="8.0" fill="#000"/>
<circle cx="421.1" cy="3069.2" r="8.0" fill="#000"/>
<circle cx="470.8" cy="2959.2" r="8.0" fill="#000"/>
<circle cx="521" cy="2930.5" r="8.0" fill="#000"/>
<circle cx="563" cy="2892.1" r="8.0" fill="#000"/>
<circle cx="618" cy="2871.1" r="8.0" fill="#000"/>
<circle cx="664.5" cy="2867" r="8.0" fill="#000"/>
<circle cx="723.5" cy="2865.8" r="8.0" fill="#000"/>
<circle cx="773.6" cy="2863.8" r="8.0" fill="#000"/>
<circle cx="817.3" cy="2863" r="8.0" fill="#000"/>
<circle cx="876.7" cy="2861" r="8.0" fill="#000"/>
<text x="618.3" y="3595.4" font-size="57" font-weight="normal" text-anchor="middle" >Hour post infection</text>
<rect x="1303.8" y="3339" width="32.5" height="51.1" fill="#d3d3d3"/>
<rect x="1351.8" y="3339" width="32.5" height="51.1" fill="#d3d3d3"/>
<rect x="1351.8" y="3049" width="32.5" height="231.5" fill="#d3d3d3"/>
<rect x="1401.5" y="3339" width="32.5" height="51.1" fill="#d3d3d3"/>
<rect x="1401.5" y="2933.7" width="32.5" height="346.8" fill="#d3d3d3"/>
<rect x="1452.8" y="3339" width="32.5" height="51.1" fill="#d3d3d3"/>
<rect x="1452.8" y="2861.8" width="32.5" height="418.7" fill="#d3d3d3"/>
<rect x="1496.8" y="3339" width="32.5" height="51.1" fill="#d3d3d3"/>
<rect x="1496.8" y="2848.8" width="32.5" height="431.7" fill="#d3d3d3"/>
<rect x="1549.7" y="3339" width="32.5" height="51.1" fill="#d3d3d3"/>
<rect x="1549.7" y="2876" width="32.5" height="404.5" fill="#d3d3d3"/>
<rect x="1595.8" y="3339" width="32.5" height="51.1" fill="#d3d3d3"/>
<rect x="1595.8" y="2926.9" width="32.5" height="353.6" fill="#d3d3d3"/>
<rect x="1642" y="3339" width="32.5" height="51.1" fill="#d3d3d3"/>
<rect x="1642" y="2988.3" width="32.5" height="292.2" fill="#d3d3d3"/>
<rect x="1691.8" y="3339" width="32.5" height="51.1" fill="#d3d3d3"/>
<rect x="1691.8" y="3034.8" width="32.5" height="245.7" fill="#d3d3d3"/>
<line x1="1368" y1="3049" x2="1368" y2="3028" stroke="#000" stroke-width="3.0" />
<line x1="1360" y1="3028" x2="1376" y2="3028" stroke="#000" stroke-width="3.0" />
<line x1="1417.8" y1="2933.7" x2="1417.8" y2="2917.6" stroke="#000" stroke-width="3.0" />
<line x1="1409.8" y1="2917.6" x2="1425.8" y2="2917.6" stroke="#000" stroke-width="3.0" />
<line x1="1469.1" y1="2861.8" x2="1469.1" y2="2841.2" stroke="#000" stroke-width="3.0" />
<line x1="1461.1" y1="2841.2" x2="1477.1" y2="2841.2" stroke="#000" stroke-width="3.0" />
<line x1="1513.1" y1="2848.8" x2="1513.1" y2="2834.7" stroke="#000" stroke-width="3.0" />
<line x1="1505.1" y1="2834.7" x2="1521.1" y2="2834.7" stroke="#000" stroke-width="3.0" />
<line x1="1565.9" y1="2876" x2="1565.9" y2="2837.9" stroke="#000" stroke-width="3.0" />
<line x1="1557.9" y1="2837.9" x2="1573.9" y2="2837.9" stroke="#000" stroke-width="3.0" />
<line x1="1612" y1="2926.9" x2="1612" y2="2919.6" stroke="#000" stroke-width="3.0" />
<line x1="1604" y1="2919.6" x2="1620" y2="2919.6" stroke="#000" stroke-width="3.0" />
<line x1="1658.3" y1="2988.3" x2="1658.3" y2="2975.4" stroke="#000" stroke-width="3.0" />
<line x1="1650.3" y1="2975.4" x2="1666.3" y2="2975.4" stroke="#000" stroke-width="3.0" />
<line x1="1708" y1="3034.8" x2="1708" y2="3002.5" stroke="#000" stroke-width="3.0" />
<line x1="1700" y1="3002.5" x2="1716" y2="3002.5" stroke="#000" stroke-width="3.0" />
<polyline points="1320.8,3266.2 1368.2,3060.3 1418,2977 1468.9,2913.5 1513,2886 1565.6,2875.9 1612,2871.1 1658.1,2869.9 1707.5,2869.1" fill="none" stroke="#000" stroke-width="4.6" stroke-linejoin="round" stroke-linecap="butt" />
<circle cx="1320.8" cy="3266.2" r="8.0" fill="#000"/>
<circle cx="1368.2" cy="3060.3" r="8.0" fill="#000"/>
<circle cx="1418" cy="2977" r="8.0" fill="#000"/>
<circle cx="1468.9" cy="2913.5" r="8.0" fill="#000"/>
<circle cx="1513" cy="2886" r="8.0" fill="#000"/>
<circle cx="1565.6" cy="2875.9" r="8.0" fill="#000"/>
<circle cx="1612" cy="2871.1" r="8.0" fill="#000"/>
<circle cx="1658.1" cy="2869.9" r="8.0" fill="#000"/>
<circle cx="1707.5" cy="2869.1" r="8.0" fill="#000"/>
<text x="1568.7" y="3595.4" font-size="57" font-weight="normal" text-anchor="middle" >Hour post infection</text>
<text transform="translate(195.2,559.9) rotate(-90)" font-size="57.5" font-weight="normal" text-anchor="middle">Glucose (mM)</text>
<line x1="176.5" y1="280.1" x2="176.5" y2="363.7" stroke="#000" stroke-width="4.8" />
<circle cx="176.5" cy="322.1" r="8.4" fill="#000"/>
<text transform="translate(195.2,1402.9) rotate(-90)" font-size="57" font-weight="normal" text-anchor="middle">Lactate (mM)</text>
<line x1="175.6" y1="1138.2" x2="175.6" y2="1222.5" stroke="#a0a0a6" stroke-width="4.8" />
<circle cx="175.6" cy="1180.3" r="8.4" fill="#a0a0a6"/>
<text transform="translate(194.8,2290.9) rotate(-90)" font-size="57" text-anchor="middle">Total cells (10<tspan font-size="45" dy="-27">9</tspan><tspan dy="27">)</tspan></text>
<line x1="174.5" y1="1992.9" x2="174.5" y2="2077.8" stroke="#a0a0a6" stroke-width="4.8" />
<circle cx="174.5" cy="2035.2" r="8.4" fill="#a0a0a6"/>
<text transform="translate(99.8,3101) rotate(-90)" font-size="57" font-weight="normal" text-anchor="middle">Virus titers</text>
<text transform="translate(169.8,3099.4) rotate(-90)" font-size="58" text-anchor="middle">(TCID<tspan font-size="44" dy="14">50</tspan><tspan dy="-14">/mL log</tspan><tspan font-size="44" dy="14">10</tspan><tspan dy="-14">)</tspan></text>
<rect x="142" y="2813" width="31.7" height="29.6" fill="#d3d3d3"/>
<text transform="translate(2010,524.7) rotate(90)" font-size="58" text-anchor="start" letter-spacing="-4">pH</text>
<line x1="2028.6" y1="602.1" x2="2028.6" y2="683.8" stroke="#a0a0a6" stroke-width="4.8" />
<circle cx="2028.6" cy="642.9" r="8.4" fill="#a0a0a6"/>
<text transform="translate(2011,2214) rotate(90)" font-size="58" text-anchor="middle">GCR (mmol/day)</text>
<line x1="2021" y1="2458.3" x2="2021" y2="2537.8" stroke="#a0a0a6" stroke-width="4.8" />
<circle cx="2021" cy="2499.4" r="8.4" fill="#a0a0a6"/>
<text transform="translate(2079.7,3095.8) rotate(90)" font-size="57" text-anchor="middle">Accumulated TCID<tspan font-size="44" dy="14">50</tspan><tspan dy="-14"> (log</tspan><tspan font-size="44" dy="14">10</tspan><tspan dy="-14">)</tspan></text>
<line x1="2091.5" y1="3461.9" x2="2091.5" y2="3545.6" stroke="#000" stroke-width="4.8" />
<circle cx="2091.5" cy="3503.7" r="8.4" fill="#000"/>
<text transform="translate(2000,3098.4) rotate(90)" font-size="57" text-anchor="middle">Genome titer (copies/mL log<tspan font-size="44" dy="14">10</tspan><tspan dy="-14">)</tspan></text>
<path d="M2009.3 3502.3L2040.3 3533.3L2009.3 3564.3L1978.3 3533.3Z" fill="none" stroke="#f04045" stroke-width="4.6"/>
</svg>
</body></html>
